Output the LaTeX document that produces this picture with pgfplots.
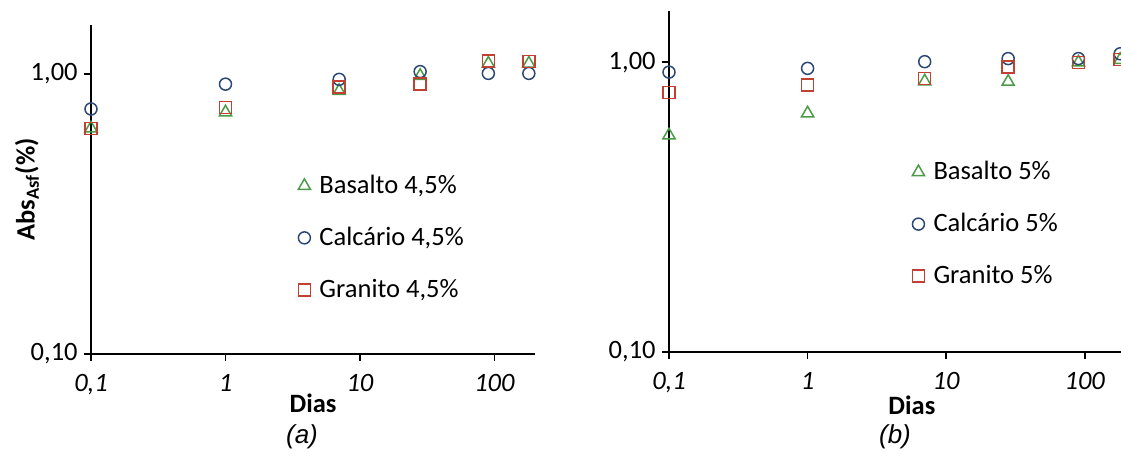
\documentclass[border=0pt]{standalone}
\usepackage{fontspec}
\setmainfont{Carlito}
\newfontfamily\capfont{Liberation Sans}
\usepackage{pgfplots}
\pgfplotsset{compat=1.18}

\definecolor{basalto}{RGB}{75,155,70}
\definecolor{calcario}{RGB}{42,72,115}
\definecolor{granito}{RGB}{192,65,50}

\newcommand{\lbl}{\fontsize{13.25}{16}\selectfont}

\begin{document}
\begin{tikzpicture}
\useasboundingbox (0,0) rectangle (560.5pt,238pt);
\pgfplotsset{
  every axis/.append style={
    xmode=log, ymode=log, scale only axis,
    axis x line*=bottom, axis y line*=left,
    axis line style={line width=0.9pt, black, -},
    xmin=0.1, xmax=200, ymin=0.1, ymax=1.5,
    xtick={0.1,1,10,100},
    xticklabels={\textit{0,1},\textit{1},\textit{10},\textit{100}},
    ytick={0.1,1}, yticklabels={{0,10},{1,00}},
    minor xtick={}, minor ytick={},
    minor tick length=0pt, minor tick style={draw=none},
    tick align=outside, major tick length=3.5pt,
    major tick style={line width=0.9pt, black},
    ticklabel style={font=\lbl, inner sep=1.5pt},
    xticklabel style={yshift=-5pt},
    yticklabel style={xshift=-1.5pt},
    clip=false,
    legend cell align=left,
    legend image post style={yshift=0.6pt},
  },
  every axis legend/.append style={draw=none, fill=none, font=\lbl, anchor=north west,
      inner sep=0pt, outer sep=0pt, row sep=11.5pt, column sep=3.5pt,
      nodes={inner sep=1pt, text height=9.5pt, text depth=3pt}},
}

% (a) 4,5 % de ligante
\begin{axis}[at={(45.5pt,61pt)}, anchor=south west,
  width=222pt, height=164.65pt,
  xlabel={\textbf{Dias}},
  xlabel style={font=\lbl, at={(axis description cs:0.5,-0.149)}, anchor=center},
  ylabel={\textbf{Abs\textsubscript{Asf}(\%)}},
  ylabel style={font=\lbl, at={(axis description cs:-0.144,0.5)}, anchor=center},
  legend style={at={(axis description cs:0.467,0.551)}}]
\addplot[only marks, color=basalto, mark=triangle, mark size=3.5pt, mark options={line width=0.75pt}]
  coordinates {(0.1,0.64) (1,0.73) (7,0.87) (28,0.985) (90,1.09) (180,1.09)};
\addlegendentry{Basalto 4,5\%}
\addplot[only marks, color=calcario, mark=o, mark size=3pt, mark options={line width=0.75pt}]
  coordinates {(0.1,0.75) (1,0.92) (7,0.957) (28,1.02) (90,1.005) (180,1.005)};
\addlegendentry{Calcário 4,5\%}
\addplot[only marks, color=granito, mark=square, mark size=3pt, mark options={line width=0.75pt}]
  coordinates {(0.1,0.64) (1,0.76) (7,0.90) (28,0.92) (90,1.115) (180,1.11)};
\addlegendentry{Granito 4,5\%}
\end{axis}

% (b) 5 % de ligante
\begin{axis}[at={(334.5pt,62pt)}, anchor=south west,
  width=228.75pt, height=170.35pt,
  xlabel={\textbf{Dias}},
  xlabel style={font=\lbl, at={(axis description cs:0.531,-0.156)}, anchor=center},
  legend style={at={(axis description cs:0.532,0.567)}}]
\addplot[only marks, color=basalto, mark=triangle, mark size=3.5pt, mark options={line width=0.75pt}]
  coordinates {(0.1,0.56) (1,0.667) (7,0.86) (28,0.857) (90,1.0) (180,1.02)};
\addlegendentry{Basalto 5\%}
\addplot[only marks, color=calcario, mark=o, mark size=3pt, mark options={line width=0.75pt}]
  coordinates {(0.1,0.925) (1,0.953) (7,1.005) (28,1.03) (90,1.03) (180,1.07)};
\addlegendentry{Calcário 5\%}
\addplot[only marks, color=granito, mark=square, mark size=3pt, mark options={line width=0.75pt}]
  coordinates {(0.1,0.787) (1,0.835) (7,0.88) (28,0.965) (90,1.0) (180,1.024)};
\addlegendentry{Granito 5\%}
\end{axis}

\node[font=\capfont\itshape\fontsize{13}{15}\selectfont] at (151pt,19.5pt) {(a)};
\node[font=\capfont\itshape\fontsize{13}{15}\selectfont] at (447.5pt,19.5pt) {(b)};
\end{tikzpicture}
\end{document}
